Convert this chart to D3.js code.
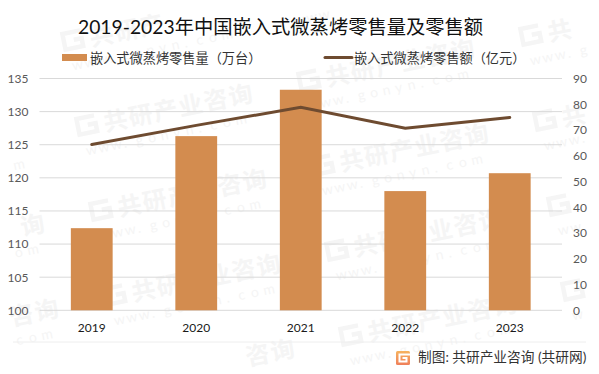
<!DOCTYPE html>
<html>
<head>
<meta charset="utf-8">
<script src="https://cdn.jsdelivr.net/npm/d3@7"></script>
<style>
html, body { margin: 0; padding: 0; background: #fff; }
svg { display: block; }
text { font-family: Lato, "Noto Sans CJK SC", sans-serif; }
</style>
</head>
<body>
<div id="chart"></div>
<script>
const years = ["2019", "2020", "2021", "2022", "2023"];
const salesVolume = [112.4, 126.3, 133.3, 118.0, 120.7];
const salesValue = [64.4, 71.8, 78.8, 70.7, 74.9];
const leftTicks = [100, 105, 110, 115, 120, 125, 130, 135];
const rightTicks = [0, 10, 20, 30, 40, 50, 60, 70, 80, 90];
const chartTitle = "2019-2023年中国嵌入式微蒸烤零售量及零售额";
const volumeName = "嵌入式微蒸烤零售量（万台）";
const valueName = "嵌入式微蒸烤零售额（亿元）";
const sourceText = "制图: 共研产业咨询 (共研网)";
const watermarkName = "共研产业咨询";
const watermarkSite = "www.gonyn.com";

const width = 599, height = 374;
const margin = { top: 78.5, right: 37, bottom: 63.7, left: 39.5 };

const svg = d3.select("#chart").append("svg")
    .attr("width", width)
    .attr("height", height);

// Watermark is placed letter by letter so nothing hangs over the page edge
const wm = svg.append("g").attr("id", "watermark");
const angle = -11.5 * Math.PI / 180;
const wmColor = "#f5f5f5";
function wmPoint(ox, oy, dx, dy) {
    return [ox + dx * Math.cos(angle) - dy * Math.sin(angle), oy + dx * Math.sin(angle) + dy * Math.cos(angle)];
}
function wmChar(ox, oy, dx, dy, size, weight, ch) {
    let p = wmPoint(ox, oy, dx, dy);
    let c = wmPoint(ox, oy, dx + size / 2, dy - size / 2);
    let r = size * 0.75;
    if (c[0] - r < 0 || c[0] + r > width || c[1] - r < 0 || c[1] + r > height) return;
    wm.append("text")
        .attr("transform", "translate(" + p[0] + "," + p[1] + ") rotate(-11.5)")
        .attr("font-size", size)
        .attr("font-weight", weight)
        .attr("fill", wmColor)
        .text(ch);
}
for (let i = -2; i < 4; i++) {
    for (let j = -2; j < 5; j++) {
        let ox = 78 + i * 222 + (j - 1) * 14;
        let oy = 137 - i * 45 + (j - 1) * 85;
        let c = wmPoint(ox, oy, 11, -10);
        if (c[0] > 12 && c[0] < width - 12 && c[1] > 12 && c[1] < height - 12) {
            wm.append("path")
                .attr("transform", "translate(" + c[0] + "," + c[1] + ") rotate(-11.5)")
                .attr("d", "M9-8H-9V8H9V0H1")
                .attr("fill", "none")
                .attr("stroke", wmColor)
                .attr("stroke-width", 4.5);
        }
        Array.from(watermarkName).forEach((ch, k) => wmChar(ox, oy, 28 + k * 25.5, 0, 24, 700, ch));
        Array.from(watermarkSite).forEach((ch, k) => wmChar(ox, oy, 5 + k * 12.7, 20, 14, 400, ch));
    }
}

const x = d3.scaleBand().domain(years)
    .range([margin.left, width - margin.right])
    .paddingInner(0.6).paddingOuter(0.3);
const yLeft = d3.scaleLinear().domain([100, 135])
    .range([height - margin.bottom, margin.top]);
const yRight = d3.scaleLinear().domain([0, 90])
    .range([height - margin.bottom, margin.top]);

// Gridlines
svg.append("g").selectAll("line").data(leftTicks).join("line")
    .attr("x1", margin.left)
    .attr("x2", width - margin.right)
    .attr("y1", d => yLeft(d))
    .attr("y2", d => yLeft(d))
    .attr("stroke", "#d9d9d9")
    .attr("stroke-width", 1);

// Bars
svg.append("g").selectAll("rect").data(salesVolume).join("rect")
    .attr("x", (d, i) => x(years[i]))
    .attr("y", d => yLeft(d))
    .attr("width", x.bandwidth())
    .attr("height", d => yLeft(100) - yLeft(d))
    .attr("fill", "#d38c4f");

// Line
const line = d3.line()
    .x((d, i) => x(years[i]) + x.bandwidth() / 2)
    .y(d => yRight(d));
svg.append("path").datum(salesValue)
    .attr("d", line)
    .attr("fill", "none")
    .attr("stroke", "#6e4b30")
    .attr("stroke-width", 3)
    .attr("stroke-linecap", "round");

// Axes
let leftAxis = d3.axisLeft(yLeft).tickValues(leftTicks).tickSize(0).tickPadding(11);
let rightAxis = d3.axisRight(yRight).tickValues(rightTicks).tickSize(0).tickPadding(11);
let bottomAxis = d3.axisBottom(x).tickSize(0).tickPadding(13);

let gLeft = svg.append("g").attr("transform", "translate(" + margin.left + ",0)").call(leftAxis);
let gRight = svg.append("g").attr("transform", "translate(" + (width - margin.right) + ",0)").call(rightAxis);
let gBottom = svg.append("g").attr("transform", "translate(0," + (height - margin.bottom) + ")").call(bottomAxis);
gLeft.select(".domain").remove();
gRight.select(".domain").remove();
gBottom.select(".domain").remove();
gLeft.selectAll("text").attr("font-size", 12).attr("fill", "#595959").style("font-family", "Lato");
gRight.selectAll("text").attr("font-size", 12).attr("fill", "#595959").style("font-family", "Lato");
gBottom.selectAll("text").attr("font-size", 12).attr("fill", "#1a1a1a").style("font-family", "Lato");

// Title
svg.append("text")
    .attr("x", 78).attr("y", 34)
    .attr("font-size", 19.3)
    .attr("fill", "#111")
    .text(chartTitle);

// Legend
svg.append("rect").attr("x", 62).attr("y", 54).attr("width", 25).attr("height", 7).attr("fill", "#d38c4f");
svg.append("text").attr("x", 90).attr("y", 63).attr("font-size", 13.2).attr("fill", "#333").text(volumeName);
svg.append("line").attr("x1", 325).attr("x2", 352).attr("y1", 57.5).attr("y2", 57.5)
    .attr("stroke", "#6e4b30").attr("stroke-width", 3).attr("stroke-linecap", "round");
svg.append("text").attr("x", 354).attr("y", 63).attr("font-size", 13.2).attr("fill", "#333").text(valueName);

// Footer
svg.append("line").attr("x1", 13).attr("x2", 586).attr("y1", 342).attr("y2", 342)
    .attr("stroke", "#eeeeee").attr("stroke-width", 1);
let defs = svg.append("defs").append("linearGradient")
    .attr("id", "logoFill").attr("x1", 0).attr("y1", 0).attr("x2", 0).attr("y2", 1);
defs.append("stop").attr("offset", 0).attr("stop-color", "#f6b35f");
defs.append("stop").attr("offset", 1).attr("stop-color", "#ef7f5a");
let logo = svg.append("g").attr("transform", "translate(396,351)");
logo.append("rect").attr("width", 14).attr("height", 14).attr("rx", 1.5).attr("fill", "url(#logoFill)");
logo.append("path").attr("d", "M14 3.5H3.5V10.5H10.5V7H6.5").attr("fill", "none").attr("stroke", "#fff").attr("stroke-width", 2);
svg.append("text").attr("x", 418).attr("y", 362)
    .attr("font-size", 13.7)
    .attr("fill", "#333")
    .text(sourceText);
</script>
</body>
</html>
